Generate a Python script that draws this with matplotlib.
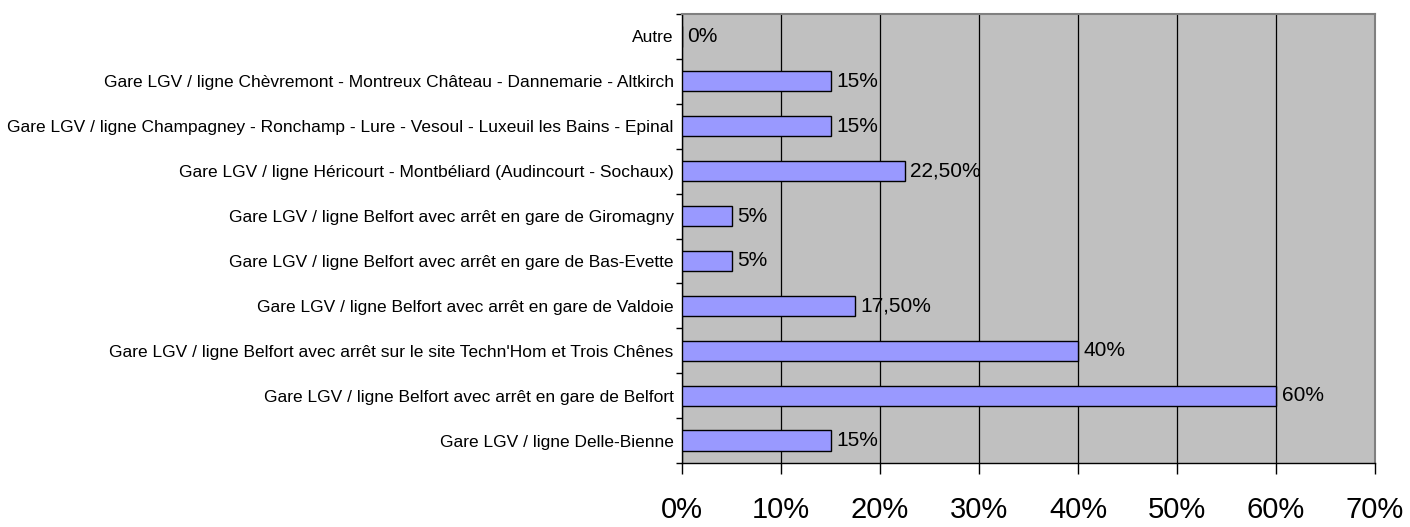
import numpy as np
import matplotlib.pyplot as plt
from matplotlib.ticker import FixedLocator, PercentFormatter

categories = [
    "Gare LGV / ligne Delle-Bienne",
    "Gare LGV / ligne Belfort avec arrêt en gare de Belfort",
    "Gare LGV / ligne Belfort avec arrêt sur le site Techn'Hom et Trois Chênes",
    "Gare LGV / ligne Belfort avec arrêt en gare de Valdoie",
    "Gare LGV / ligne Belfort avec arrêt en gare de Bas-Evette",
    "Gare LGV / ligne Belfort avec arrêt en gare de Giromagny",
    "Gare LGV / ligne Héricourt - Montbéliard (Audincourt - Sochaux)",
    "Gare LGV / ligne Champagney - Ronchamp - Lure - Vesoul - Luxeuil les Bains - Epinal",
    "Gare LGV / ligne Chèvremont - Montreux Château - Dannemarie - Altkirch",
    "Autre",
]
values = [15, 60, 40, 17.5, 5, 5, 22.5, 15, 15, 0]
value_labels = ["15%", "60%", "40%", "17,50%", "5%", "5%", "22,50%", "15%", "15%", "0%"]
x_ticks = [0, 10, 20, 30, 40, 50, 60, 70]

plt.rcParams['font.family'] = ['Liberation Sans', 'DejaVu Sans']

fig = plt.figure(figsize=(14.1, 5.27), dpi=100)
ax = fig.add_axes([682 / 1410, 64 / 527, 693 / 1410, 449 / 527])
ax.set_facecolor('#C0C0C0')

y = np.arange(len(categories))
ax.barh(y, values, height=0.45, color='#9999FF', edgecolor='black', linewidth=1, zorder=3)

for yi, v, lab in zip(y, values, value_labels):
    ax.annotate(lab, (v, yi), xytext=(4, 0), textcoords='offset points',
                va='center', ha='left', fontsize=15, zorder=4)

ax.set_xlim(0, 70)
ax.set_ylim(-0.5, len(categories) - 0.5)
ax.set_xticks(x_ticks)
ax.xaxis.set_major_formatter(PercentFormatter(decimals=0))
ax.tick_params(axis='x', labelsize=21, length=8, width=1, pad=16, direction='out')
ax.grid(axis='x', color='black', linewidth=0.9, zorder=1)

ax.set_yticks(y)
ax.set_yticklabels(categories, fontsize=12.5)
ax.tick_params(axis='y', length=0, pad=6)
ax.yaxis.set_minor_locator(FixedLocator(np.arange(-0.5, len(categories), 1.0)))
ax.tick_params(axis='y', which='minor', length=4, width=1)

for side in ['top', 'right']:
    ax.spines[side].set_color('#808080')
    ax.spines[side].set_linewidth(1.5)
for side in ['left', 'bottom']:
    ax.spines[side].set_color('black')
    ax.spines[side].set_linewidth(1)

fig.savefig('out.png', dpi=100)
